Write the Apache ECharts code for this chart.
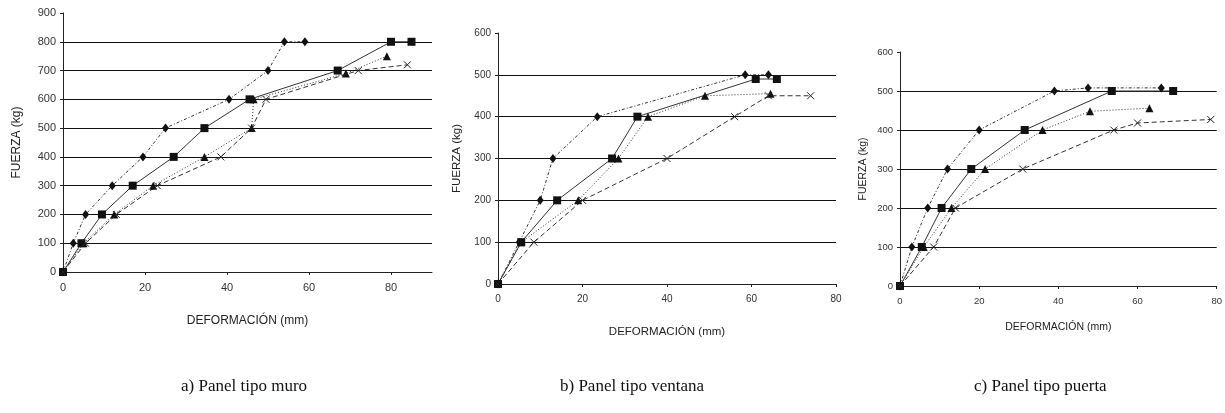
<!DOCTYPE html>
<html>
<head>
<meta charset="utf-8">
<script src="https://cdn.jsdelivr.net/npm/echarts@6/dist/echarts.min.js"></script>
<style>
  html, body { margin: 0; padding: 0; background: #fff; }
  #chart { width: 1225px; height: 413px; }
</style>
</head>
<body>
<div id="chart"></div>
<script>
// a) Panel tipo muro  [deformacion mm, fuerza kg]
const muroRombo = [[0,0],[2.5,100],[5.5,200],[12,300],[19.5,400],[25,500],[40.5,600],[50,700],[54,800],[59,800]];
const muroCuadro = [[0,0],[4.5,100],[9.5,200],[17,300],[27,400],[34.5,500],[45.5,600],[67,700],[80,800],[85,800]];
const muroTriang = [[0,0],[5,100],[12.5,200],[22,300],[34.5,400],[46,500],[46.5,600],[69,690],[79,750]];
const muroCruz = [[0,0],[5.5,100],[13,200],[23,300],[38.5,400],[46,500],[49.5,600],[72,700],[84,720]];

// b) Panel tipo ventana
const ventRombo = [[0,0],[5,100],[10,200],[13,300],[23.5,400],[58.5,500],[64,500]];
const ventCuadro = [[0,0],[5.5,100],[14,200],[27,300],[33,400],[61,490],[66,490]];
const ventTriang = [[0,0],[5.5,100],[19,200],[28.5,300],[35.5,400],[49,450],[64.5,455]];
const ventCruz = [[0,0],[8.5,100],[20,200],[40,300],[56,400],[64,450],[74,450]];

// c) Panel tipo puerta
const puerRombo = [[0,0],[3,100],[7,200],[12,300],[20,400],[39,500],[47.5,508],[66,508]];
const puerCuadro = [[0,0],[5.5,100],[10.5,200],[18,300],[31.5,400],[53.5,500],[69,500]];
const puerTriang = [[0,0],[6,100],[13,200],[21.5,300],[36,400],[48,448],[63,456]];
const puerCruz = [[0,0],[8.5,100],[14,200],[31,300],[54,400],[60,418],[78.5,427]];

const captions = ["a) Panel tipo muro", "b) Panel tipo ventana", "c) Panel tipo puerta"];

const chart = echarts.init(document.getElementById("chart"));

const crossPath = "path://M0,0L10,10M10,0L0,10";
const lineColor = "#333";

function makeSeries(idx, data, kind) {
  const styles = {
    rombo: { symbol: "diamond", size: [7, 9], dash: [3, 2, 1, 2] },
    cuadro: { symbol: "rect", size: 8, dash: "solid" },
    triang: { symbol: "triangle", size: 8, dash: [1, 2] },
    cruz: { symbol: crossPath, size: 7, dash: [5, 3] },
  };
  const s = styles[kind];
  const cruz = kind === "cruz";
  return {
    type: "line",
    xAxisIndex: idx,
    yAxisIndex: idx,
    data: data,
    symbol: s.symbol,
    symbolSize: s.size,
    showAllSymbol: true,
    animation: false,
    lineStyle: { color: lineColor, width: 1, type: s.dash },
    itemStyle: cruz
      ? { color: "none", borderColor: "#222", borderWidth: 1 }
      : { color: "#111", borderWidth: 0 },
    z: 5,
  };
}

function xAxis(idx, max, gap, labelSize, nameSize) {
  return {
    type: "value",
    gridIndex: idx,
    min: 0,
    max: max,
    interval: 20,
    name: "DEFORMACIÓN (mm)",
    nameLocation: "middle",
    nameGap: gap,
    nameTextStyle: { fontFamily: "Liberation Sans", fontSize: nameSize, color: "#222" },
    axisLine: { onZero: false, lineStyle: { color: "#222", width: 1 } },
    axisTick: { show: true, length: 3, lineStyle: { color: "#222" } },
    axisLabel: {
      margin: 10,
      showMaxLabel: max % 20 === 0,
      fontFamily: "Liberation Sans",
      fontSize: labelSize,
      color: "#333",
    },
    splitLine: { show: false },
  };
}

function yAxis(idx, max, gap, labelSize, nameSize) {
  return {
    type: "value",
    gridIndex: idx,
    min: 0,
    max: max,
    interval: 100,
    name: "FUERZA (kg)",
    nameLocation: "middle",
    nameGap: gap,
    nameRotate: 90,
    nameTextStyle: { fontFamily: "Liberation Sans", fontSize: nameSize, color: "#222" },
    axisLine: { show: true, lineStyle: { color: "#222", width: 1 } },
    axisTick: { show: true, length: 3, lineStyle: { color: "#222" } },
    axisLabel: { margin: 7, fontFamily: "Liberation Sans", fontSize: labelSize, color: "#333" },
    splitLine: {
      show: true,
      showMaxLine: false,
      lineStyle: { color: "#111", width: 1 },
    },
  };
}

const option = {
  backgroundColor: "#fff",
  animation: false,
  title: [
    { text: captions[0], left: 176, top: 373 },
    { text: captions[1], left: 555, top: 373 },
    { text: captions[2], left: 969, top: 373 },
  ].map((t) => Object.assign(t, {
    textStyle: { fontFamily: "Liberation Serif", fontSize: 17, fontWeight: "normal", color: "#111" },
  })),
  grid: [
    { left: 63, top: 13, width: 369, height: 259 },
    { left: 498, top: 33, width: 338, height: 251 },
    { left: 900, top: 52, width: 320, height: 234 },
  ],
  xAxis: [xAxis(0, 90, 43, 11, 12), xAxis(1, 80, 42, 10, 11.5), xAxis(2, 80, 36, 9.5, 10.5)],
  yAxis: [yAxis(0, 900, 40, 11, 12), yAxis(1, 600, 35, 10, 11.5), yAxis(2, 600, 31, 9.5, 10.5)],
  series: [
    makeSeries(0, muroRombo, "rombo"),
    makeSeries(0, muroCuadro, "cuadro"),
    makeSeries(0, muroTriang, "triang"),
    makeSeries(0, muroCruz, "cruz"),
    makeSeries(1, ventRombo, "rombo"),
    makeSeries(1, ventCuadro, "cuadro"),
    makeSeries(1, ventTriang, "triang"),
    makeSeries(1, ventCruz, "cruz"),
    makeSeries(2, puerRombo, "rombo"),
    makeSeries(2, puerCuadro, "cuadro"),
    makeSeries(2, puerTriang, "triang"),
    makeSeries(2, puerCruz, "cruz"),
  ],
};

chart.setOption(option);
</script>
</body>
</html>
